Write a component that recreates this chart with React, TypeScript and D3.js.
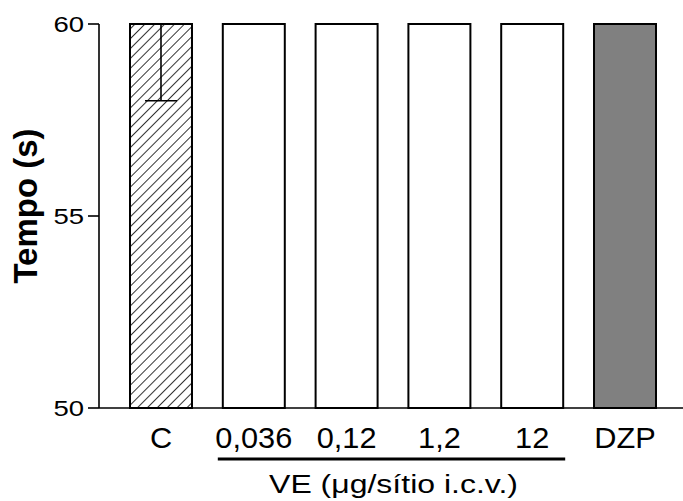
import React from "react";
import * as d3 from "d3";

const categories = ["C", "0,036", "0,12", "1,2", "12", "DZP"];
const values = [60, 60, 60, 60, 60, 60];
const sems = [2, 0, 0, 0, 0, 0];
const fills = ["hatch", "#ffffff", "#ffffff", "#ffffff", "#ffffff", "#808080"];
const yTicks = [50, 55, 60];
const yTitle = "Tempo (s)";
const xTitle = "VE (\u03bcg/s\u00edtio i.c.v.)";
const groupLabelRange = ["0,036", "12"];

export default function App() {
  const W = 683, H = 501;
  const y = d3.scaleLinear().domain([50, 60]).range([408, 24]);
  const x = d3.scaleBand<string>().domain(categories).range([130, 656]).paddingInner(0.332).paddingOuter(0);
  const axisX = 99;
  const font = "Liberation Sans, Arial, sans-serif";
  const bw = x.bandwidth();
  const gx0 = (x(groupLabelRange[0]) as number) - 5;
  const gx1 = (x(groupLabelRange[1]) as number) + bw + 2;
  return (
    <svg width={W} height={H} style={{ position: "absolute", left: 0, top: 0, background: "#fff" }}>
      <defs>
        <pattern id="hatch" patternUnits="userSpaceOnUse" width="7" height="7" patternTransform="rotate(45)">
          <rect width="7" height="7" fill="#fff" />
          <line x1="0" y1="0" x2="0" y2="7" stroke="#000" strokeWidth="1.6" />
        </pattern>
      </defs>
      {categories.map((c, i) => {
        const x0 = x(c) as number;
        return (
          <rect key={c} x={x0} y={y(values[i])} width={bw} height={y(50) - y(values[i])}
            fill={fills[i] === "hatch" ? "url(#hatch)" : fills[i]} stroke="#000" strokeWidth={2} />
        );
      })}
      {categories.map((c, i) => {
        if (!sems[i]) return null;
        const cx = (x(c) as number) + bw / 2;
        const yb = y(values[i] - sems[i]);
        return (
          <g key={"e" + c} stroke="#000" strokeWidth={1.6}>
            <line x1={cx} x2={cx} y1={y(values[i])} y2={yb} />
            <line x1={cx - 16} x2={cx + 16} y1={yb} y2={yb} />
          </g>
        );
      })}
      {/* baseline */}
      <line x1={axisX} x2={W} y1={y(50)} y2={y(50)} stroke="#000" strokeWidth={1.6} />
      {/* y axis */}
      <line x1={axisX} x2={axisX} y1={y(60)} y2={y(50)} stroke="#000" strokeWidth={1.6} />
      {yTicks.map(t => (
        <g key={t}>
          <line x1={axisX - 11} x2={axisX} y1={y(t)} y2={y(t)} stroke="#000" strokeWidth={1.6} />
          <g transform={`translate(${axisX - 15},${y(t) + 8}) scale(1.25,1)`}>
            <text textAnchor="end" fontFamily={font} fontSize={22} fill="#000">{t}</text>
          </g>
        </g>
      ))}
      {categories.map(c => (
        <g key={"l" + c} transform={`translate(${(x(c) as number) + bw / 2},448) scale(1.06,1)`}>
          <text textAnchor="middle" fontFamily={font} fontSize={29} fill="#000">{c}</text>
        </g>
      ))}
      <line x1={gx0} x2={gx1} y1={459} y2={459} stroke="#000" strokeWidth={3} />
      <g transform={`translate(${(gx0 + gx1) / 2 + 2},493) scale(1.28,1)`}>
        <text textAnchor="middle" fontFamily={font} fontSize={25} fill="#000">{xTitle}</text>
      </g>
      <g transform={`translate(37,206) rotate(-90)`}>
        <text textAnchor="middle" fontFamily={font} fontSize={33} fontWeight="bold" fill="#000">{yTitle}</text>
      </g>
    </svg>
  );
}
